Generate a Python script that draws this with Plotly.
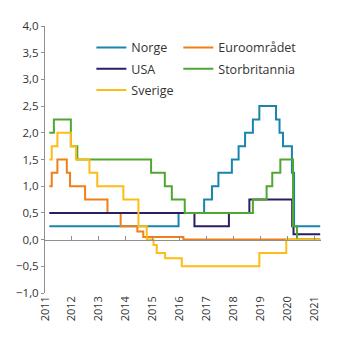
import plotly.graph_objects as go

# Policy rates, percent. Step series: each value holds from its date until the next one.
END = 2021.22

norge_x = [2011.16, 2015.96, 2016.91, 2017.20, 2017.44, 2017.94, 2018.19, 2018.43, 2018.72,
           2018.96, 2019.58, 2019.71, 2019.84, 2020.17, 2020.25, END]
norge_y = [0.25, 0.5, 0.75, 1.0, 1.25, 1.5, 1.75, 2.0, 2.25,
           2.5, 2.25, 2.0, 1.75, 1.25, 0.25, 0.25]

usa_x = [2011.16, 2016.55, 2017.83, 2018.59, 2020.18, 2020.23, END]
usa_y = [0.5, 0.25, 0.5, 0.75, 0.25, 0.1, 0.1]

sverige_x = [2011.16, 2011.25, 2011.46, 2011.96, 2012.15, 2012.65, 2012.94, 2013.91,
             2014.47, 2014.78, 2015.03, 2015.15, 2015.46, 2016.08, 2018.96, 2019.96, END]
sverige_y = [1.5, 1.75, 2.0, 1.75, 1.5, 1.25, 1.0, 0.75,
             0.25, 0.0, -0.1, -0.25, -0.35, -0.5, -0.25, 0.0, 0.0]

euro_x = [2011.16, 2011.25, 2011.46, 2011.81, 2011.93, 2012.49, 2013.32, 2013.81,
          2014.43, 2014.65, 2016.14, END]
euro_y = [1.0, 1.25, 1.5, 1.25, 1.0, 0.75, 0.5, 0.25,
          0.15, 0.05, 0.0, 0.0]

storbritannia_x = [2011.16, 2011.33, 2011.96, 2012.20, 2014.94, 2015.45, 2015.71, 2016.19,
                   2018.72, 2019.23, 2019.44, 2019.74, 2020.21, 2020.36, END]
storbritannia_y = [2.0, 2.25, 1.75, 1.5, 1.25, 1.0, 0.75, 0.5,
                   0.75, 1.0, 1.25, 1.5, 0.25, 0.0, 0.0]

years = list(range(2011, 2022))
y_ticks = [-1.0, -0.5, 0.0, 0.5, 1.0, 1.5, 2.0, 2.5, 3.0, 3.5, 4.0]

COLORS = {
    "Norge": "#1a84ad",
    "USA": "#2b1f62",
    "Sverige": "#fdbd16",
    "Euroområdet": "#f07f17",
    "Storbritannia": "#4fa630",
}

FONT = "Open Sans"
TEXT = "#333333"
AXIS = "#8f8f8f"

fig = go.Figure()

# drawing order: lower layers first
series = [
    ("Norge", norge_x, norge_y, "legend"),
    ("Euroområdet", euro_x, euro_y, "legend2"),
    ("USA", usa_x, usa_y, "legend"),
    ("Storbritannia", storbritannia_x, storbritannia_y, "legend2"),
    ("Sverige", sverige_x, sverige_y, "legend"),
]
rank = {"Norge": 1, "USA": 2, "Sverige": 3, "Euroområdet": 1, "Storbritannia": 2}
for name, xs, ys, leg in series:
    fig.add_trace(go.Scatter(
        x=xs, y=ys, name=name, mode="lines",
        line=dict(color=COLORS[name], width=2, shape="hv"),
        legend=leg, legendrank=rank[name], legendgroup=name,
        hoverinfo="skip",
    ))

# zero line carrying the year ticks
fig.add_trace(go.Scatter(x=[2011], y=[0], xaxis="x2", mode="markers",
                         marker=dict(opacity=0), showlegend=False, hoverinfo="skip"))

legend_common = dict(
    font=dict(family=FONT, size=12.5, color=TEXT),
    bgcolor="rgba(0,0,0,0)",
    xanchor="left", yanchor="top",
    traceorder="grouped",
    tracegroupgap=2,
    itemwidth=30,
)

fig.update_layout(
    width=345, height=341,
    margin=dict(l=45, r=24.4, t=25.7, b=48.3),
    paper_bgcolor="white", plot_bgcolor="white",
    font=dict(family=FONT, size=11, color=TEXT),
    separators=", ",
    showlegend=True,
    legend=dict(x=0.168, y=0.974, **legend_common),
    legend2=dict(x=0.483, y=0.974, **legend_common),
    xaxis=dict(
        range=[2011, 2021.25], tickvals=years, ticktext=[str(y) for y in years],
        tickangle=-90, showgrid=False, zeroline=False, showline=False, ticks="",
        tickfont=dict(family=FONT, size=11, color=TEXT),
    ),
    xaxis2=dict(
        range=[2011, 2021.25], overlaying="x", anchor="free", position=0.2,
        tickvals=years, showticklabels=False, ticks="inside", ticklen=4,
        tickcolor=AXIS, showline=True, linecolor=AXIS, linewidth=1,
        showgrid=False, zeroline=False,
    ),
    yaxis=dict(
        range=[-1, 4], tickvals=y_ticks, tickformat=".1f",
        showgrid=False, zeroline=False, showline=True, linecolor=AXIS, linewidth=1,
        ticks="outside", ticklen=3, tickcolor=AXIS,
        tickfont=dict(family=FONT, size=11.5, color=TEXT),
    ),
)

fig.write_html("out.html")
